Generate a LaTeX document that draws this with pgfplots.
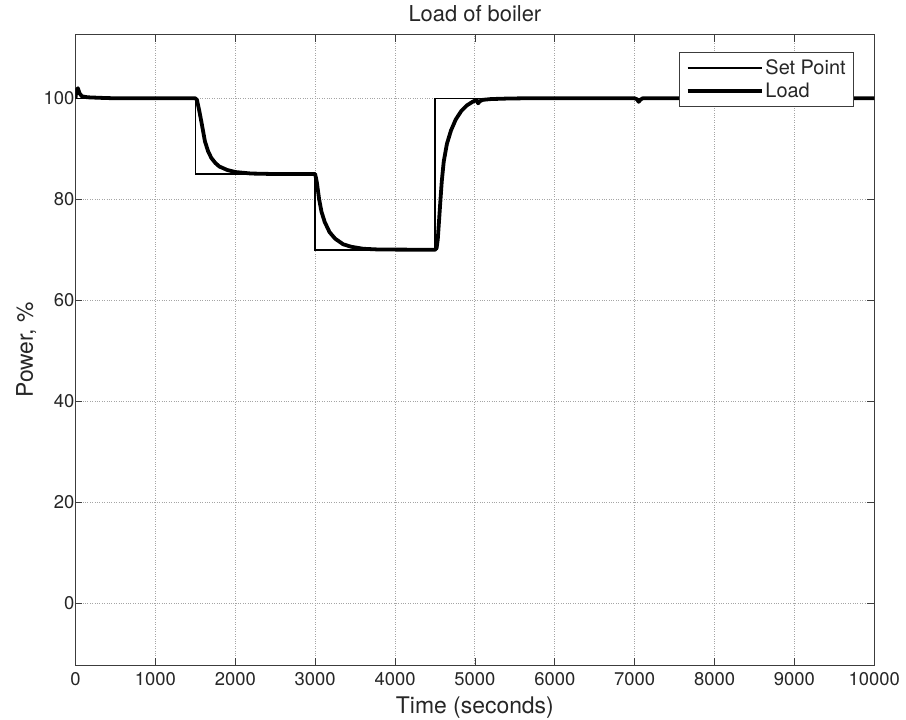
\documentclass[border=0pt]{standalone}
\usepackage{pgfplots}
\pgfplotsset{compat=1.18}
\usepackage{fontspec}
\setmainfont{TeX Gyre Heros}
\definecolor{axgray}{RGB}{60,60,60}
\definecolor{gridgray}{RGB}{165,165,165}
\definecolor{txtgray}{RGB}{38,38,38}
\begin{document}
\begin{tikzpicture}
\useasboundingbox (-75.5bp,-54.7bp) rectangle (830.5bp,665.3bp);
\begin{axis}[
  at={(0,0)}, anchor=south west,
  scale only axis, width=798.8bp, height=630.6bp,
  xmin=0, xmax=10000, ymin=-12.3, ymax=112.6,
  xtick={0,1000,...,10000}, ytick={0,20,...,100},
  scaled x ticks=false,
  /pgf/number format/1000 sep={},
  /pgf/number format/assume math mode=true,
  tick align=inside, major tick length=7bp,
  tick style={color=axgray, line width=0.8bp},
  axis line style={color=axgray, line width=1.2bp},
  grid=major, grid style={dotted, color=gridgray, line width=0.9bp},
  ticklabel style={font=\fontsize{18.5}{20}\selectfont, color=txtgray},
  xticklabel style={yshift=-3.5bp},
  yticklabel style={xshift=2.4bp},
  title={Load of boiler},
  title style={at={(axis description cs:0.5,1.0122)}, anchor=base, font=\fontsize{22}{24}\selectfont, color=txtgray},
  xlabel={Time (seconds)},
  xlabel style={at={(axis description cs:0.5,-0.0772)}, anchor=base, font=\fontsize{23}{25}\selectfont, color=txtgray},
  ylabel={Power, \%},
  ylabel style={at={(axis description cs:-0.0532,0.5)}, anchor=base, font=\fontsize{23}{25}\selectfont, color=txtgray},
  legend style={at={(axis description cs:0.9746,0.9726)}, anchor=north east,
    draw=axgray, line width=0.8bp, fill=white, font=\fontsize{20}{22}\selectfont,
    inner xsep=6bp, inner ysep=5.5bp, row sep=2.7bp, text=txtgray},
  legend cell align=left,
  legend image code/.code={\draw[#1] (0bp,0bp) -- (74bp,0bp);},
]
\addplot[black, line width=1.6bp] coordinates {
  (0,100) (1500,100) (1500,85) (3000,85) (3000,70) (4500,70) (4500,100) (10000,100)
};
\addlegendentry{Set Point}
\addplot[black, line width=3.8bp, line join=round] coordinates {
  (0,100) (10,101.5) (30,102) (50,101) (80,100.4) (150,100.2) (300,100.1) (500,100)
  (1500,100) (1520,99.7) (1550,97.5) (1580,95) (1620,91.5) (1660,89.5) (1700,88.2)
  (1750,87.2) (1800,86.5) (1900,85.8) (2000,85.4) (2200,85.1) (2500,85.0) (3000,85)
  (3020,83.5) (3050,80) (3080,77.5) (3120,75.5) (3180,73.5) (3250,72.2) (3350,71.1)
  (3450,70.6) (3600,70.2) (3800,70.05) (4500,70)
  (4520,70.3) (4535,72) (4550,75.5) (4565,79) (4585,83.5) (4610,87.5) (4650,91)
  (4700,93.6) (4760,95.8) (4830,97.5) (4900,98.6) (4970,99.3) (5020,99.7) (5040,99.0)
  (5060,99.4) (5100,99.7) (5200,99.85) (5400,99.95) (5600,100)
  (7000,100) (7030,99.8) (7050,99.3) (7070,99.7) (7100,100) (10000,100)
};
\addlegendentry{Load}
\end{axis}
\end{tikzpicture}
\end{document}
